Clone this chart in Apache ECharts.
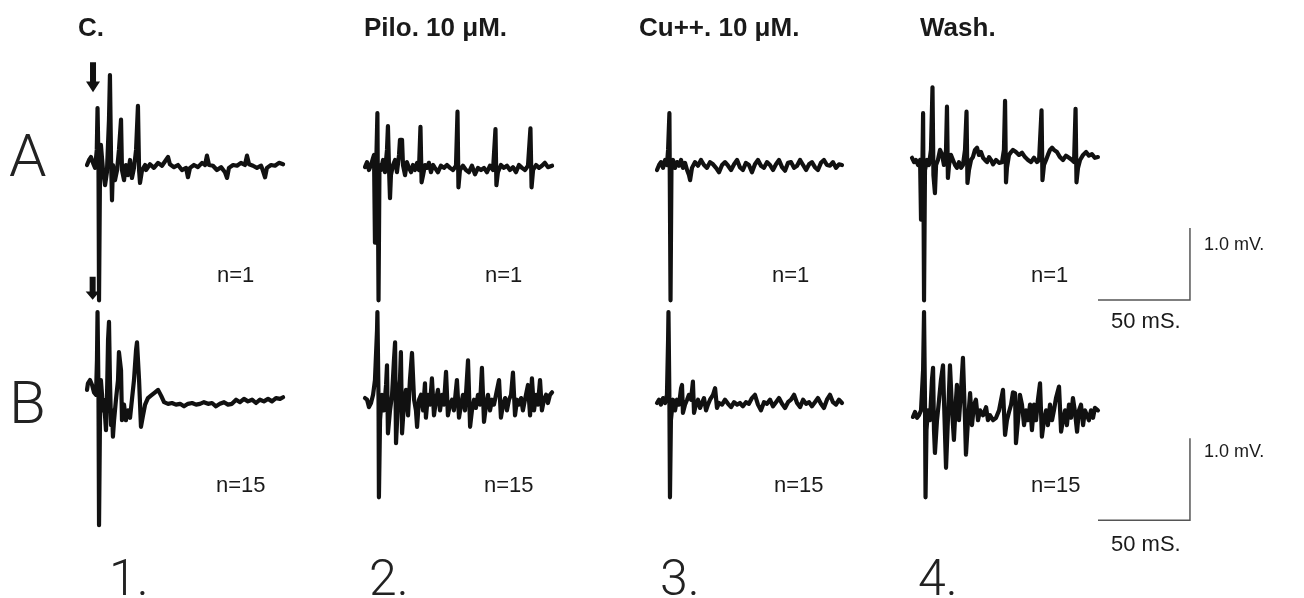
<!DOCTYPE html>
<html><head><meta charset="utf-8">
<script src="https://cdn.jsdelivr.net/npm/echarts@6/dist/echarts.min.js"></script>
<style>html,body{margin:0;padding:0;background:#fff}#c{width:1304px;height:598px}</style>
</head><body><div id="c"></div>
<script>
// ---- text content ----
const conditions = ['C.', 'Pilo. 10 μM.', 'Cu++. 10 μM.', 'Wash.'];
const rowLabels = ['A', 'B'];
const panelNumbers = ['1.', '2.', '3.', '4.'];
const nLabels = ['n=1', 'n=15'];
const scaleLabels = ['1.0 mV.', '50 mS.'];

// ---- traces: [time (ms), potential (mV)] ----
const traceA1 = [[0,0],[1.1,0.07],[2.1,0.11],[3.2,0.03],[4.3,-0.04],[5.2,0.21],[5.6,0.79],[6.1,0.07],[6.4,-1.88],[6.9,-0.14],[7.4,0.28],[8.5,-0.07],[9.6,-0.28],[10.6,-0.10],[11.7,0.63],[12.2,1.25],[12.8,0.07],[13.3,-0.49],[13.8,0],[14.9,-0.21],[16.0,-0.07],[17.0,0.21],[18.1,0.63],[18.6,-0.07],[19.7,-0.21],[20.7,0],[21.8,-0.14],[22.9,0.07],[23.9,-0.18],[25.0,-0.04],[26.1,0.21],[27.1,0.82],[27.7,-0.07],[28.2,-0.25],[29.3,-0.07],[30.9,0],[31.4,-0.07],[33.5,0.01],[35.6,-0.04],[37.8,0.03],[39.9,-0.01],[42.0,0.07],[43.1,0.11],[44.1,0.01],[46.3,-0.03],[48.4,0],[50.5,-0.07],[52.7,-0.04],[53.7,-0.17],[54.8,-0.04],[56.9,0],[59.0,-0.03],[61.2,0.03],[62.8,0],[63.8,0.13],[64.9,0],[67.0,-0.01],[69.1,-0.07],[71.3,-0.03],[73.4,-0.10],[74.5,-0.18],[75.5,-0.04],[77.7,0],[79.8,-0.01],[81.9,0.03],[84.0,0],[85.1,0.13],[86.2,0.01],[88.3,-0.01],[90.4,-0.04],[92.6,-0.01],[93.6,-0.08],[94.7,-0.17],[95.7,-0.04],[97.9,0],[100.0,-0.01],[102.1,0.03],[104.3,0.01]];
const traceA2 = [[0,-0.03],[1.1,0.04],[2.1,-0.07],[3.2,0],[4.3,0.10],[4.8,0.14],[5.3,-1.08],[5.9,-0.07],[6.6,0.72],[7.2,-1.88],[7.7,0],[8.5,-0.07],[9.6,0.07],[10.6,-0.10],[11.7,0.21],[12.2,0.54],[12.8,-0.07],[13.3,-0.46],[13.8,-0.14],[14.9,0],[16.0,0.07],[17.0,-0.10],[18.1,0.14],[18.6,0.35],[19.7,0.35],[20.2,0],[21.3,-0.14],[22.3,0.04],[23.4,-0.04],[24.5,-0.10],[25.5,0],[26.6,-0.07],[27.7,0.03],[28.7,-0.07],[29.5,0.53],[30.1,-0.24],[30.9,-0.14],[31.9,0],[33.0,-0.04],[34.0,0.03],[35.1,-0.10],[36.2,0],[37.2,-0.04],[38.8,-0.10],[40.4,-0.01],[42.0,-0.04],[43.6,0],[45.2,-0.04],[46.8,-0.07],[48.4,-0.01],[49.2,0.74],[49.7,-0.31],[50.5,-0.07],[52.1,-0.01],[53.7,-0.07],[55.3,-0.10],[56.9,-0.01],[58.5,-0.13],[60.1,-0.04],[61.7,-0.07],[63.3,-0.04],[64.9,-0.10],[66.5,-0.01],[68.1,-0.07],[69.4,0.50],[69.9,-0.28],[70.7,-0.10],[72.3,0],[73.9,-0.04],[75.5,-0.01],[77.1,-0.07],[78.7,-0.03],[80.3,-0.10],[81.9,0],[83.5,-0.04],[85.1,-0.07],[86.7,-0.01],[88.0,0.51],[88.6,-0.31],[89.4,-0.07],[91.0,0],[92.6,-0.04],[94.1,-0.01],[95.7,0.03],[97.3,-0.03],[99.5,-0.01]];
const traceA3 = [[0,-0.07],[1.1,0],[2.1,0.04],[3.2,-0.04],[4.3,0.07],[5.3,0],[5.9,0.21],[6.6,0.72],[7.2,-1.88],[7.7,0],[8.5,0.07],[9.6,-0.04],[10.6,0.04],[11.7,-0.01],[12.8,0.07],[13.8,-0.04],[14.9,0.03],[16.0,-0.07],[17.0,-0.14],[17.6,-0.21],[18.6,-0.04],[20.2,0.04],[21.8,-0.01],[23.4,0.07],[25.0,0],[26.6,-0.04],[28.2,0.04],[29.8,0.01],[31.4,-0.04],[33.0,-0.10],[34.6,0],[36.2,0.04],[37.8,-0.01],[39.4,-0.07],[41.0,0.01],[42.6,0.07],[44.1,-0.03],[45.7,-0.07],[47.3,0.03],[48.9,0],[50.5,-0.10],[52.1,0.01],[53.7,0.07],[55.3,-0.01],[56.9,-0.04],[58.5,0.04],[60.1,0],[61.7,-0.07],[63.3,0.01],[64.9,0.07],[66.5,-0.03],[68.1,-0.08],[69.7,0.03],[71.3,0.04],[72.9,-0.04],[74.5,-0.01],[76.1,0.07],[77.7,0],[79.3,-0.07],[80.9,0.01],[82.4,0.04],[84.0,-0.03],[85.6,-0.07],[87.2,0.03],[88.8,0.07],[90.4,0],[92.0,-0.01],[93.6,0.04],[95.2,-0.04],[96.8,0.01],[98.4,0]];
const traceA4 = [[0,0.10],[1.1,0.04],[2.1,0.07],[3.2,0],[4.3,0.07],[4.8,-0.76],[5.3,-0.49],[5.9,0.72],[6.4,-1.88],[6.9,-0.07],[8.0,0.07],[9.0,0],[10.1,0.21],[10.9,1.08],[11.4,-0.14],[12.2,-0.39],[12.8,0],[13.8,0.07],[14.9,0.21],[16.0,0.14],[17.0,0],[18.1,0.21],[18.6,0.81],[19.1,-0.18],[19.7,0],[20.7,0.14],[21.8,0.07],[22.9,0],[23.9,-0.04],[25.0,0.04],[26.1,-0.04],[27.1,0],[28.2,0.21],[29.0,0.74],[29.5,-0.25],[30.3,-0.07],[31.4,0.07],[32.4,0.11],[33.5,0.21],[34.6,0.24],[35.6,0.14],[36.7,0.18],[37.8,0.10],[38.8,0.07],[39.9,0.04],[41.0,0.11],[42.0,0.07],[43.1,0.01],[44.7,0.07],[46.3,0.03],[47.9,0.04],[48.9,0.21],[49.5,0.89],[50.0,-0.24],[50.5,-0.04],[51.6,0.14],[52.7,0.18],[53.7,0.21],[55.3,0.18],[56.9,0.14],[58.5,0.17],[60.1,0.11],[61.7,0.07],[63.3,0.04],[64.9,0.10],[66.5,0.04],[67.6,0.07],[68.9,0.76],[69.4,-0.21],[70.2,0],[71.3,0.07],[72.3,0.14],[73.4,0.21],[74.5,0.24],[75.5,0.21],[77.1,0.18],[78.7,0.11],[80.3,0.07],[81.9,0.13],[83.5,0.10],[85.1,0.07],[86.2,0.04],[87.0,0.78],[87.5,-0.24],[88.3,-0.04],[89.4,0.07],[91.0,0.14],[92.6,0.18],[94.1,0.13],[95.7,0.15],[97.3,0.10],[98.9,0.11]];
const traceB1 = [[0,0.16],[0.5,0.24],[1.6,0.28],[2.7,0.22],[3.7,0.13],[4.8,0.10],[5.3,0.52],[5.6,1.11],[6.1,0.16],[6.4,-1.49],[6.9,-0.21],[7.4,0.28],[8.0,0.10],[8.5,-0.09],[9.0,0.04],[10.1,-0.33],[10.6,0.04],[11.2,0.77],[11.7,0.99],[12.2,0.28],[12.8,-0.27],[13.3,-0.09],[13.8,-0.41],[14.4,-0.21],[15.4,0.04],[16.5,0.28],[17.0,0.62],[18.1,0.40],[18.6,-0.21],[19.7,-0.02],[20.7,-0.21],[21.8,-0.09],[22.9,-0.18],[23.9,0.04],[25.0,0.28],[26.1,0.65],[26.6,0.74],[27.7,0.28],[28.7,-0.29],[29.8,-0.15],[30.9,-0.02],[32.4,0.06],[34.0,0.09],[36.2,0.13],[37.8,0.16],[39.4,0.09],[41.0,0.01],[43.1,-0.01],[45.2,0],[47.3,-0.02],[49.5,-0.01],[51.6,-0.04],[53.7,-0.01],[55.9,0],[58.0,-0.02],[60.1,-0.01],[62.2,0.01],[64.4,-0.01],[66.5,0],[68.6,-0.04],[70.7,-0.01],[72.9,0.01],[75.0,-0.02],[77.1,-0.01],[79.3,0.04],[81.4,0.01],[83.5,0.05],[85.6,0.02],[87.8,0.04],[89.9,0],[92.0,0.04],[94.1,0.02],[96.3,0.05],[98.4,0.02],[100.5,0.06],[102.7,0.05],[104.3,0.07]];
const traceB2 = [[0,0.06],[1.1,0.04],[2.1,-0.05],[3.2,0],[4.3,0.10],[5.3,0.28],[6.4,0.89],[6.6,1.11],[7.2,0.04],[7.4,-1.15],[8.0,-0.21],[9.0,0.10],[10.1,-0.09],[11.2,0.22],[11.7,0.46],[12.2,-0.37],[13.3,-0.09],[14.4,0.10],[15.4,0.52],[16.0,0.74],[16.5,-0.49],[17.6,0.04],[18.6,0.28],[19.1,0.62],[19.7,-0.37],[20.7,-0.02],[21.8,0.16],[22.9,-0.15],[23.9,0.28],[25.0,0.61],[26.1,0.04],[27.1,-0.09],[27.7,-0.29],[28.7,0.04],[29.8,0.10],[30.9,-0.09],[31.9,0.24],[32.4,-0.18],[33.5,0.10],[34.6,-0.02],[35.6,0.30],[36.7,-0.15],[37.8,0.04],[38.8,0.16],[39.9,-0.09],[41.0,0.10],[42.0,-0.02],[43.1,0.38],[44.1,-0.15],[45.2,-0.02],[46.3,0.04],[47.3,-0.09],[48.9,0.28],[50.0,-0.18],[51.1,-0.02],[52.1,0.10],[53.2,-0.09],[54.8,0.52],[55.9,-0.29],[56.9,-0.09],[58.0,0.04],[59.0,-0.06],[60.1,0.10],[61.2,-0.02],[62.2,0.43],[63.3,-0.23],[64.4,-0.02],[65.4,0.10],[66.5,-0.09],[67.6,0.04],[68.6,-0.02],[69.7,0.10],[71.3,0.28],[72.3,-0.18],[73.4,-0.02],[74.5,0.06],[75.5,-0.09],[76.6,0.04],[77.7,0.10],[78.7,0.37],[79.8,-0.15],[80.9,0.04],[81.9,-0.02],[83.0,0.06],[84.0,-0.09],[85.1,0.04],[86.7,0.22],[87.8,-0.15],[88.8,0.30],[89.9,-0.09],[91.0,0.10],[92.0,-0.02],[93.1,0.28],[94.1,-0.09],[95.2,0.04],[96.3,0.10],[97.3,0],[98.4,0.10],[99.5,0.13]];
const traceB3 = [[0,0],[1.1,0.04],[2.1,-0.02],[3.2,0.06],[4.3,0],[5.3,0.10],[5.9,0.77],[6.1,1.11],[6.6,0.04],[6.9,-1.15],[7.4,-0.21],[8.5,0.04],[9.6,-0.09],[10.6,0.04],[11.7,-0.02],[12.8,0.18],[13.3,0.22],[13.8,-0.12],[14.9,-0.02],[16.0,0.04],[17.0,0.10],[18.1,0.04],[19.1,0.26],[19.7,-0.12],[20.7,-0.02],[21.8,0.04],[22.9,-0.06],[23.9,0],[25.0,0.06],[26.1,-0.09],[27.1,-0.02],[28.2,0.04],[29.8,0.10],[30.9,0.18],[31.9,-0.06],[33.0,0],[34.6,-0.02],[36.2,0.04],[37.8,-0.01],[39.4,-0.05],[41.0,0.01],[42.6,-0.02],[44.1,0],[45.7,-0.04],[47.3,0.01],[48.9,-0.01],[50.5,0.06],[52.1,0.10],[53.7,-0.02],[55.3,-0.09],[56.9,0.01],[58.5,-0.01],[60.1,0.04],[61.7,-0.04],[63.3,0.01],[64.9,0.06],[66.5,-0.01],[68.1,-0.06],[69.7,0.01],[71.3,0.04],[72.9,0.10],[74.5,0],[76.1,-0.05],[77.7,0.04],[79.3,-0.01],[80.9,0.01],[82.4,-0.04],[84.0,0.01],[85.6,0.06],[87.2,-0.01],[88.8,-0.06],[90.4,0.04],[92.0,0.10],[93.6,0.01],[95.2,-0.02],[96.8,0.04],[98.4,0]];
const traceB4 = [[0.5,-0.17],[1.6,-0.11],[2.7,-0.18],[3.7,-0.15],[4.8,-0.09],[5.9,0.40],[6.4,1.11],[6.9,0.04],[7.2,-1.15],[7.7,-0.33],[8.5,-0.09],[9.6,-0.21],[10.6,0.28],[11.2,0.43],[11.7,-0.33],[12.2,-0.61],[13.3,-0.21],[14.4,0.04],[15.4,0.28],[16.5,0.46],[17.0,0.04],[18.1,-0.79],[19.1,-0.21],[20.2,0.46],[21.3,-0.09],[22.3,-0.45],[23.4,0.04],[23.9,0.22],[25.0,-0.21],[26.1,0.16],[27.1,0.55],[28.2,-0.21],[28.7,-0.63],[29.8,-0.21],[30.9,0.12],[31.9,-0.27],[33.0,-0.02],[34.0,0.04],[35.1,-0.21],[36.2,-0.09],[37.8,-0.15],[39.4,-0.05],[40.4,-0.21],[41.5,-0.15],[43.1,-0.21],[44.7,-0.18],[46.3,-0.09],[48.4,0.16],[49.5,-0.39],[50.5,-0.21],[51.6,-0.11],[52.7,-0.02],[53.7,0.13],[54.8,0.12],[55.3,-0.49],[56.4,-0.21],[57.4,0.10],[58.5,-0.02],[59.6,-0.27],[60.6,-0.09],[61.7,-0.21],[62.8,-0.02],[63.8,-0.33],[64.9,-0.02],[66.0,-0.21],[67.0,0.04],[68.1,0.24],[69.1,-0.41],[70.2,-0.21],[71.3,-0.09],[72.3,-0.27],[73.4,-0.02],[74.5,-0.21],[75.5,-0.09],[76.6,0.06],[78.2,0.20],[79.3,-0.35],[80.3,-0.21],[81.4,-0.09],[82.4,-0.27],[83.5,-0.02],[84.6,-0.18],[85.6,0.06],[86.7,-0.11],[87.8,-0.35],[88.8,-0.09],[89.9,-0.02],[91.0,-0.27],[92.0,-0.09],[93.1,-0.15],[94.1,-0.21],[95.2,-0.09],[96.3,-0.18],[97.3,-0.06],[98.9,-0.09]];

// stimulus arrows [time ms, mV]
const stimArrowA = [[3.2, 1.22]];
const stimArrowB = [[3.0, 1.40]];
// scale bar sizes
const scaleBarMs = 50;
const scaleBarMv = 1.0;

// ---- layout ----
const PX_PER_MS = 1.88;
const X_MAX = 112;
const colLeft = [87, 365, 657, 912, 1098];
const rows = [
  { base: 165, pxPerMv: 72, min: -2.1, max: 1.5, barLevel: -1.875 },
  { base: 403, pxPerMv: 82, min: -1.6, max: 1.6, barLevel: -1.43 }
];
const traces = [[traceA1, traceA2, traceA3, traceA4], [traceB1, traceB2, traceB3, traceB4]];
const FONT = "'Liberation Sans', Arial, Helvetica, sans-serif";
const LIGHT = "Roboto, 'Liberation Sans', sans-serif";
const INK = '#111111';

const grid = [], xAxis = [], yAxis = [], series = [];
rows.forEach((r, ri) => {
  colLeft.forEach((left, ci) => {
    const gi = grid.length;
    grid.push({ left: left, top: r.base - r.max * r.pxPerMv, width: X_MAX * PX_PER_MS,
                height: (r.max - r.min) * r.pxPerMv, containLabel: false });
    xAxis.push({ type: 'value', gridIndex: gi, min: 0, max: X_MAX, show: false });
    yAxis.push({ type: 'value', gridIndex: gi, min: r.min, max: r.max, show: false });
    if (ci < 4) {
      series.push({ type: 'line', xAxisIndex: gi, yAxisIndex: gi, data: traces[ri][ci],
        showSymbol: false, symbol: 'none', clip: false, animation: false, silent: true,
        lineStyle: { color: INK, width: 4.2, join: 'round', cap: 'round' } });
      if (ci === 0) {
        series.push({ type: 'scatter', xAxisIndex: gi, yAxisIndex: gi,
          data: ri === 0 ? stimArrowA : stimArrowB,
          symbol: 'path://M4,0 L10,0 L10,18 L14,18 L7,28 L0,18 L4,18 Z',
          symbolSize: ri === 0 ? [14, 30] : [14, 23], itemStyle: { color: INK, opacity: 1 },
          animation: false, silent: true, clip: false });
      }
    } else {
      const lv = r.barLevel;
      series.push({ type: 'line', xAxisIndex: gi, yAxisIndex: gi,
        data: [[0, lv], [scaleBarMs, lv], [scaleBarMs, lv + scaleBarMv]],
        showSymbol: false, symbol: 'none', clip: false, animation: false, silent: true,
        lineStyle: { color: '#555', width: 1.5, join: 'miter' } });
    }
  });
});

const graphic = [];
function txt(text, x, y, size, weight, family, color) {
  graphic.push({ type: 'text', left: x, top: y - size * 0.58, silent: true,
    style: { text: text, fontSize: size, fontWeight: weight || 'normal',
             fontFamily: family || FONT, fill: color || '#1a1a1a' } });
}
const titleX = [78, 364, 639, 920];
conditions.forEach((t, i) => txt(t, titleX[i], 31, 26, 'bold'));
const rowY = [166, 413];
rowLabels.forEach((t, i) => txt(t, 9, rowY[i], 60, 300, LIGHT, '#222'));
const numX = [109, 369, 660, 918];
panelNumbers.forEach((t, i) => txt(t, numX[i], 586, 50, 300, LIGHT, '#222'));
const nX = [[217, 485, 772, 1031], [216, 484, 774, 1031]];
const nY = [278, 488];
nLabels.forEach((t, ri) => nX[ri].forEach(x => txt(t, x, nY[ri], 22, 'normal')));
const mvY = [246, 453], msY = [324, 547];
[0, 1].forEach(ri => {
  txt(scaleLabels[0], 1204, mvY[ri], 18, 'normal');
  txt(scaleLabels[1], 1111, msY[ri], 22, 'normal');
});

const chart = echarts.init(document.getElementById('c'), null, { renderer: 'canvas' });
chart.setOption({ backgroundColor: '#fff', animation: false, grid, xAxis, yAxis, series, graphic });
</script></body></html>
